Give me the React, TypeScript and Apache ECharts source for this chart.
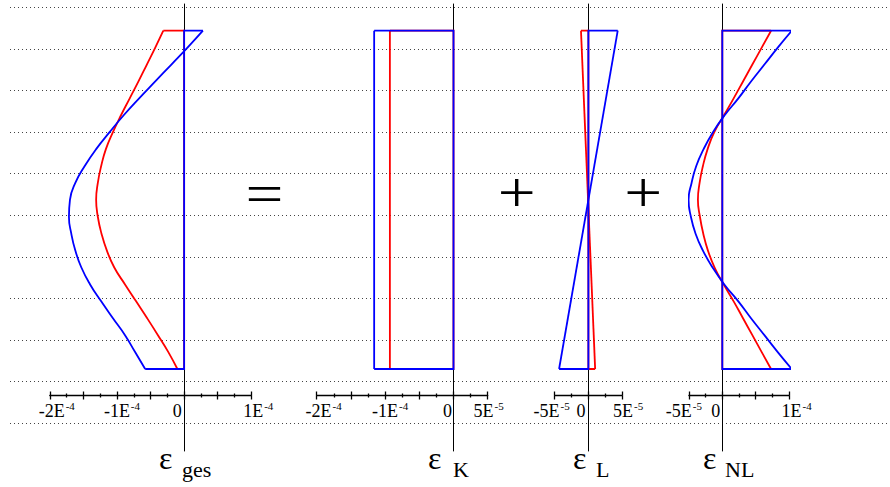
import React, { useEffect, useRef } from 'react';
import * as echarts from 'echarts';

// normalized height through the section (top = 1, bottom = -1)
const heights = [1, 0.9, 0.8, 0.7, 0.6, 0.5, 0.4, 0.3, 0.2, 0.1, 0, -0.1, -0.2, -0.3, -0.4, -0.5, -0.6, -0.7, -0.8, -0.9, -1];
// strains in units of 1E-4
const totalRed = [-0.31, -0.43, -0.555, -0.68, -0.81, -0.94, -1.06, -1.165, -1.235, -1.285, -1.31, -1.285, -1.23, -1.15, -1.04, -0.88, -0.715, -0.55, -0.39, -0.235, -0.1];
const totalBlue = [0.28, 0.05, -0.19, -0.43, -0.67, -0.9, -1.11, -1.31, -1.48, -1.62, -1.7, -1.715, -1.68, -1.62, -1.53, -1.4, -1.235, -1.06, -0.88, -0.73, -0.58];
const edgeHeights = [1, -1];
const constantRed = [-0.93, -0.93];
const constantBlue = [-1.16, -1.16];
const linearRed = [-0.11, 0.1];
const linearBlue = [0.435, -0.435];
const nonlinearRed = [0.73, 0.59, 0.45, 0.31, 0.17, 0.025, -0.12, -0.22, -0.29, -0.34, -0.365, -0.335, -0.285, -0.215, -0.115, 0.02, 0.17, 0.31, 0.45, 0.59, 0.73];
const nonlinearBlue = [1.04, 0.83, 0.63, 0.43, 0.24, 0.035, -0.14, -0.28, -0.39, -0.46, -0.505, -0.47, -0.4, -0.29, -0.145, 0.03, 0.24, 0.43, 0.63, 0.83, 1.04];

const tickValues = [-2, -1, -0.5, 0, 0.5, 1];
const tickMantissas = ['-2E', '-1E', '-5E', '0', '5E', '1E'];
const tickExponents = ['-4', '-4', '-5', '', '-5', '-4'];

const panelSubscripts = ['ges', 'K', 'L', 'NL'];
const operators = ['=', '+', '+'];

const SERIF = 'Liberation Serif';
const RED = '#ff0000';
const BLUE = '#0000ff';

// layout of the four panels (pixels)
const PANELS = [
  { x0: 49.8, x1: 251.3, min: -2, max: 1, smooth: true, labels: { '-2': 7, '-1': 5, '0': -7, '1': 7 } as Record<string, number> },
  { x0: 316.7, x1: 487.7, min: -2, max: 0.5, smooth: false, labels: { '-2': 7, '-1': 5, '0': -6, '0.5': 1 } as Record<string, number> },
  { x0: 554.7, x1: 622.1, min: -0.5, max: 0.5, smooth: false, labels: { '-0.5': -3, '0': -7.5, '0.5': 6 } as Record<string, number> },
  { x0: 688.9, x1: 789.1, min: -0.5, max: 1, smooth: true, labels: { '-0.5': -5, '0': -6.5, '1': 7.7 } as Record<string, number> },
];

const GRID_TOP = 4;
const GRID_BOTTOM_PX = 451;
const Z_TOP_PX = 30.7;
const Z_BOT_PX = 369;
const AXIS_PX = 395.5;

const makeFormatter = (offsets: Record<string, number>) => (v: number) => {
  const key = Object.keys(offsets).find((k) => Math.abs(parseFloat(k) - v) < 1e-9);
  if (key === undefined) return '';
  const i = tickValues.findIndex((t) => Math.abs(t - v) < 1e-9);
  if (i < 0) return '';
  const d = offsets[key];
  const w = Math.round(Math.abs(d) * 2);
  const pad = w ? `{p${w}|}` : '';
  const body = `{m|${tickMantissas[i]}}` + (tickExponents[i] ? `{e|${tickExponents[i]}}` : '');
  return d > 0 ? pad + body : body + pad;
};

const rich: Record<string, any> = {
  m: { fontFamily: SERIF, fontSize: 18, color: '#000', lineHeight: 20, verticalAlign: 'bottom' },
  e: { fontFamily: SERIF, fontSize: 11, color: '#000', lineHeight: 10, verticalAlign: 'top', padding: [0, 0, 0, 1] },
};
for (let w = 1; w <= 30; w++) rich['p' + w] = { width: w, height: 1 };

export default function App() {
  const ref = useRef<HTMLDivElement>(null);
  useEffect(() => {
    if (!ref.current) return;
    const chart = echarts.init(ref.current, null, { renderer: 'svg' });
    const scale = (Z_BOT_PX - Z_TOP_PX) / 2;
    const center = (Z_BOT_PX + Z_TOP_PX) / 2;
    const yMax = (center - GRID_TOP) / scale;
    const yMin = (center - GRID_BOTTOM_PX) / scale;

    const grids: any[] = [];
    const xAxes: any[] = [];
    const yAxes: any[] = [];
    PANELS.forEach((p, i) => {
      grids.push({ left: p.x0, width: p.x1 - p.x0, top: GRID_TOP, height: GRID_BOTTOM_PX - GRID_TOP });
      const common = {
        type: 'value', gridIndex: i, min: p.min, max: p.max, interval: 0.5,
        position: 'bottom', offset: AXIS_PX - GRID_BOTTOM_PX,
        splitLine: { show: false },
        minorTick: { show: true, splitNumber: 2, length: 2, lineStyle: { color: '#000', width: 1.3 } },
      };
      xAxes.push({
        ...common,
        axisLine: { show: true, onZero: false, lineStyle: { color: '#000', width: 1.3 } },
        axisTick: { show: true, inside: true, length: 4, lineStyle: { color: '#000', width: 1.3 } },
        axisLabel: { show: true, margin: 4.5, formatter: makeFormatter(p.labels), rich, showMinLabel: true, showMaxLabel: true },
      });
      xAxes.push({
        ...common,
        axisLine: { show: false, onZero: false },
        axisTick: { show: true, inside: false, length: 4, lineStyle: { color: '#000', width: 1.3 } },
        axisLabel: { show: false },
      });
      yAxes.push({
        type: 'value', gridIndex: i, min: yMin, max: yMax,
        axisLine: { show: true, onZero: true, lineStyle: { color: '#000', width: 1 } },
        axisTick: { show: false }, axisLabel: { show: false }, splitLine: { show: false },
      });
    });
    // background dotted guide lines
    grids.push({ left: 10, right: 0, top: 7.3, height: 416 });
    xAxes.push({ type: 'value', gridIndex: 4, min: 0, max: 1, show: false });
    yAxes.push({
      type: 'value', gridIndex: 4, min: 0, max: 10, interval: 1,
      axisLine: { show: false }, axisTick: { show: false }, axisLabel: { show: false },
      splitLine: { show: true, lineStyle: { type: [1, 3], color: '#444', width: 1 } },
    });

    const shapes: [number[], number[], number[]][] = [
      [totalRed, totalBlue, heights],
      [constantRed, constantBlue, edgeHeights],
      [linearRed, linearBlue, edgeHeights],
      [nonlinearRed, nonlinearBlue, heights],
    ];
    const series: any[] = [];
    shapes.forEach(([r, b, hs], i) => {
      const smooth = PANELS[i].smooth;
      [[r, RED], [b, BLUE]].forEach(([vals, color]: any) => {
        const n = hs.length - 1;
        // closing edges: top edge, zero line, bottom edge
        series.push({
          type: 'line', xAxisIndex: 2 * i, yAxisIndex: i,
          data: [[vals[0], hs[0]], [0, hs[0]], [0, hs[n]], [vals[n], hs[n]]],
          showSymbol: false, symbol: 'none',
          lineStyle: { color, width: 1.8, join: 'miter' }, silent: true, clip: false,
        });
        // the strain profile
        series.push({
          type: 'line', xAxisIndex: 2 * i, yAxisIndex: i,
          data: vals.map((v: number, k: number) => [v, hs[k]]),
          smooth: smooth ? 0.5 : false,
          showSymbol: false, symbol: 'none',
          lineStyle: { color, width: 1.8, join: 'round' }, silent: true, clip: false,
        });
      });
    });

    const graphic: any[] = [];
    const epsX = [159, 428, 573, 703];
    const subX = [182, 453, 596, 725];
    panelSubscripts.forEach((s, i) => {
      graphic.push({ type: 'text', x: epsX[i], y: 474, style: { text: 'ε', font: '32px ' + SERIF, fill: '#000', verticalAlign: 'bottom' } });
      graphic.push({ type: 'text', x: subX[i], y: 480, style: { text: s, font: '22px ' + SERIF, fill: '#000', verticalAlign: 'bottom' } });
    });
    const opX = [264.5, 516.7, 643.3];
    const opY = [194, 192.7, 192.7];
    operators.forEach((o, i) => {
      graphic.push({ type: 'text', x: opX[i], y: opY[i], scaleX: 1.2, style: { text: o, font: '56px ' + SERIF, fill: '#000', align: 'center', verticalAlign: 'middle' } });
    });

    chart.setOption({
      animation: false,
      backgroundColor: '#fff',
      grid: grids, xAxis: xAxes, yAxis: yAxes, series, graphic,
    });
    return () => chart.dispose();
  }, []);
  return <div ref={ref} style={{ position: 'fixed', left: 0, top: 0, width: 890, height: 487 }} />;
}
